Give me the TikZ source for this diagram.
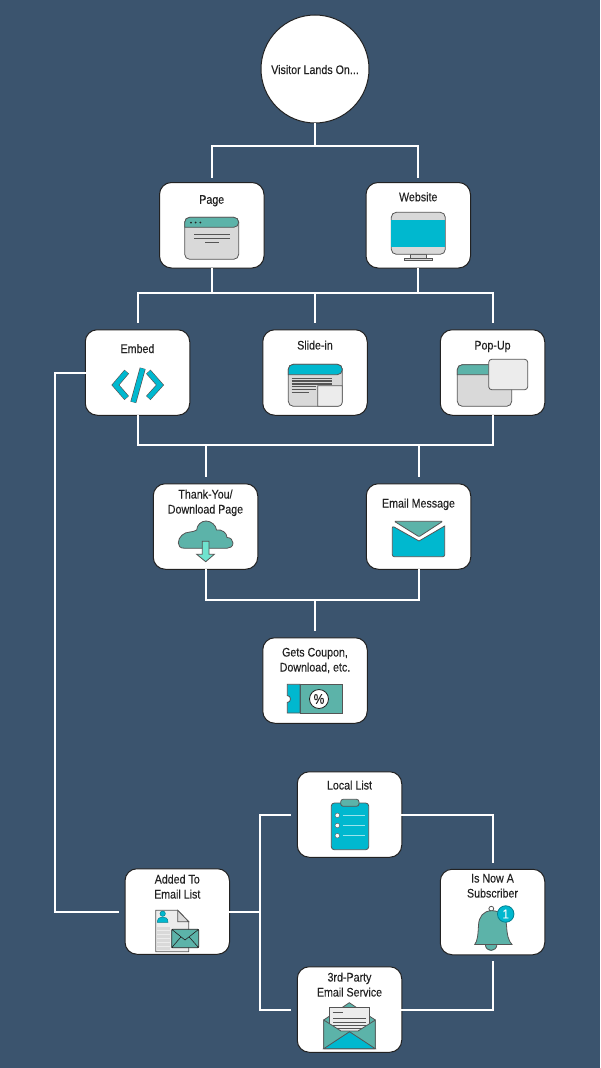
\documentclass[tikz,border=0pt]{standalone}
\usepackage{fontspec}
\setmainfont[FakeStretch=0.86,FakeBold=0.15]{Liberation Sans}
\definecolor{slateback}{HTML}{3B546E}
\definecolor{inkdark}{HTML}{222222}
\definecolor{iconedge}{HTML}{555555}
\definecolor{iconteal}{HTML}{5CB3A9}
\definecolor{iconcyan}{HTML}{00B8CF}
\definecolor{iconmint}{HTML}{6FE3CF}
\definecolor{icongray}{HTML}{D9D9D9}
\definecolor{iconpale}{HTML}{ECECEC}
\newcommand{\lift}[2]{\smash{\raisebox{#1pt}{\begin{tabular}[b]{@{}c@{}}#2\end{tabular}}}}
\newcommand{\windowicon}[6]{
	\draw[iconline,fill=icongray,rounded corners=5pt] (#1,#2) rectangle (#3,#4);
	\draw[iconline,fill=#6,rounded corners=5pt] (#1,#5) -- (#1,#2) -- (#3,#2) -- (#3,#5) [sharp corners] -- cycle;
}
\tikzset{
	card/.style={draw=inkdark,fill=white,line width=1pt,rounded corners=12pt,minimum width=104.5pt,minimum height=85.5pt,inner sep=0pt,text=inkdark,font=\fontsize{12.4}{15}\selectfont},
	wire/.style={white,line width=2pt,line cap=rect},
	stub/.style={shorten >=7pt},
	hv/.style={to path={(\tikztostart) -| (\tikztotarget) \tikztonodes}},
	vh/.style={to path={(\tikztostart) |- (\tikztotarget) \tikztonodes}},
	iconline/.style={draw=iconedge,line width=0.8pt},
	textrule/.style={iconedge,line width=1.2pt},
}
\begin{document}
\begin{tikzpicture}[x=1pt,y=-1pt]
	\fill[slateback] (0,0) rectangle (600,1068);
	\useasboundingbox (0,0) rectangle (600,1068);
	\node[card,circle,minimum size=108pt] (visitor) at (315,69) {\lift{-5}{Visitor Lands On...}};
	\node[card] (page) at (211.75,225.25) {\lift{21.5}{Page}};
	\node[card] (website) at (418.25,225.25) {\lift{24}{Website}};
	\node[card] (embed) at (137.5,372.5) {\lift{19.5}{Embed}};
	\node[card] (slidein) at (315,372.5) {\lift{23}{Slide-in}};
	\node[card] (popup) at (492.5,372.5) {\lift{23}{Pop-Up}};
	\node[card] (thankyou) at (205.5,526.5) {\lift{13}{Thank-You/\\Download Page}};
	\node[card] (emailmsg) at (418.5,526.5) {\lift{19}{Email Message}};
	\node[card] (coupon) at (315,680.5) {\lift{9}{Gets Coupon,\\Download, etc.}};
	\node[card] (locallist) at (349.5,814.5) {\lift{25}{Local List}};
	\node[card] (added) at (177.25,911.5) {\lift{13}{Added To\\Email List}};
	\node[card] (subscriber) at (492.5,912) {\lift{14.5}{Is Now A\\Subscriber}};
	\node[card] (thirdparty) at (349.5,1009.5) {\lift{13}{3rd-Party\\Email Service}};
	\coordinate (topbus) at (315,146);
	\coordinate (midbus) at (315,292.5);
	\coordinate (formbus) at (315,445);
	\coordinate (resultbus) at (315,600);
	\coordinate (siderail) at (55,640);
	\coordinate (listfork) at (260,911.5);
	\path[wire]
	(visitor) edge (topbus)
	(topbus) edge [hv,shorten >=5pt] (page)
	(topbus) edge [hv,shorten >=5pt] (website)
	(page) edge [vh] (midbus)
	(website) edge [vh] (midbus)
	(midbus) edge [hv,stub] (embed)
	(midbus) edge [stub] (slidein)
	(midbus) edge [hv,stub] (popup)
	(embed) edge [vh] (formbus)
	(popup) edge [vh] (formbus)
	(formbus) edge [hv,stub] (thankyou)
	(formbus) edge [hv,stub] (emailmsg)
	(thankyou) edge [vh] (resultbus)
	(emailmsg) edge [vh] (resultbus)
	(resultbus) edge [stub] (coupon)
	(embed) edge [hv] (siderail)
	(siderail) edge [vh,stub] (added)
	(added) edge (listfork)
	(listfork) edge [vh,stub] (locallist)
	(listfork) edge [vh,stub] (thirdparty)
	(locallist) edge [hv,stub] (subscriber)
	(thirdparty) edge [hv,stub] (subscriber);
	% page icon
	\windowicon{184.7}{217.3}{238.7}{259.3}{227.3}{iconteal}
	\fill[inkdark] (191,222.5) circle (1) (195.7,222.5) circle (1) (200.4,222.5) circle (1);
	\draw[textrule] (194,234.3) -- (230,234.3) (194,238.7) -- (230,238.7) (205,242.7) -- (218.7,242.7);
	% website icon
	\draw[iconline,fill=icongray] (410.7,254) rectangle (426.7,258.5);
	\draw[iconline,fill=icongray] (404.3,258.5) rectangle (432.3,260.7);
	\draw[iconline,fill=icongray,rounded corners=5pt] (391.3,212.3) rectangle (445.3,254.3);
	\fill[iconcyan] (391.3,220) rectangle (445.3,247.3);
	% embed icon
	\draw[iconedge,line width=6pt,line cap=butt,miter limit=10] (126.7,371.7) -- (115.4,385) -- (126.7,398) (148.3,371.7) -- (160,385) -- (148.3,398) (142.7,368.3) -- (133.3,402.3);
	\draw[iconcyan,line width=4.7pt,line cap=butt,miter limit=10] (126.4,372) -- (115.4,385) -- (126.4,397.7) (148.6,372) -- (160,385) -- (148.6,397.7) (142.6,368.6) -- (133.4,402);
	% slide-in icon
	\windowicon{288.3}{364.3}{342.3}{406.3}{374.7}{iconcyan}
	\draw[iconline,fill=iconpale] (317.7,385.7) -- (342.3,385.7) -- (342.3,401.3) .. controls (342.3,404.5) and (340.5,406.3) .. (337.3,406.3) -- (317.7,406.3) -- cycle;
	\draw[textrule] (291.7,378.3) -- (332.3,378.3) (291.7,381) -- (332.3,381) (291.7,384) -- (332.3,384) (291.7,386.7) -- (316,386.7) (291.7,389.7) -- (316,389.7) (291.7,392.7) -- (309,392.7);
	% pop-up icon
	\windowicon{457.3}{364.7}{511.7}{406.3}{374.7}{iconteal}
	\draw[iconline,fill=iconpale,rounded corners=3pt] (488.7,359.3) rectangle (527.7,389.7);
	% cloud icon
	\draw[iconline,fill=iconteal] (185,548.3) .. controls (180,548.3) and (178.3,546) .. (178.3,543) .. controls (178.3,537) and (184,532) .. (190,532) .. controls (192,532) and (195,531) .. (196.7,530) .. controls (197,525) and (201,521) .. (206,521) .. controls (211,521) and (216,525) .. (216.5,530) .. controls (222,529) and (227,533) .. (227,537.5) .. controls (230.5,537.5) and (233,540) .. (233,543) .. controls (233,546.5) and (230,548.3) .. (227,548.3) -- cycle;
	\draw[iconline,fill=iconmint] (202.3,541.3) -- (209,541.3) -- (209,554.3) -- (214.3,554.3) -- (205.7,561.7) -- (196.7,554.3) -- (202.3,554.3) -- cycle;
	% email message icon
	\draw[iconline,fill=iconteal,rounded corners=1pt] (394.3,521.3) -- (442.7,521.3) -- (419,536.7) -- cycle;
	\draw[iconline,fill=iconcyan,rounded corners=2pt] (392.3,526) [sharp corners] -- (419,541) -- (444.7,526) [rounded corners=2pt] -- (444.7,556.7) -- (392.3,556.7) -- cycle;
	% coupon icon
	\draw[iconline,fill=iconteal] (300,684.3) rectangle (342.3,713);
	\draw[iconline,fill=iconcyan] (287.3,684.3) -- (300,684.3) -- (300,713) -- (287.3,713) -- (287.3,702.5) .. controls (291.5,702.5) and (291.5,695.5) .. (287.3,695.5) -- cycle;
	\node[circle,draw=inkdark,fill=white,line width=0.8pt,minimum size=19pt,inner sep=0pt,text=inkdark,font=\fontsize{14}{14}\selectfont] (percent) at (319,699) {\%};
	% added-to-list icon
	\draw[iconline,fill=iconpale] (155.7,910.3) -- (177.7,910.3) -- (188.7,921.7) -- (188.7,951.7) -- (155.7,951.7) -- cycle;
	\draw[iconline,fill=icongray] (177.7,910.3) -- (188.7,921.7) -- (177.7,921.7) -- cycle;
	\foreach \rowy in {928.5,932.5,936.5,940.5,944.5,948.3}
		\draw[icongray,line width=2.5pt] (157.3,\rowy) -- (170,\rowy);
	\draw[iconcyan!70!black,line width=0.5pt,fill=iconcyan] (162.7,913.7) circle (2.7);
	\draw[iconcyan!70!black,line width=0.5pt,fill=iconcyan] (157.3,922.3) .. controls (157.5,918) and (160,917) .. (162.7,917) .. controls (165.5,917) and (168,918) .. (168,922.3) -- cycle;
	\draw[draw=inkdark,line width=0.8pt,fill=iconteal,rounded corners=1pt] (171.7,929.3) rectangle (198.7,947.7);
	\draw[inkdark,line width=0.6pt] (171.7,929.3) -- (185,940) -- (198.7,929.3) (171.7,947.7) -- (181,936.8) (198.7,947.7) -- (189,936.8);
	% local list icon
	\draw[iconline,fill=iconcyan,rounded corners=3pt] (331.3,803) rectangle (368.7,849.7);
	\draw[iconline,fill=iconteal,rounded corners=2.5pt] (340.7,799.3) rectangle (359,806.3);
	\foreach \rowy in {815.3,825.5,835.7} {
		\draw[iconcyan!40!white,line width=1pt] (342.7,\rowy) -- (365,\rowy);
		\draw[iconedge,line width=0.4pt,fill=white] (337.3,\rowy) circle (2.3);
	}
	% third-party icon
	\draw[iconline,fill=iconteal] (323.7,1020) -- (349.3,1002.7) -- (375.3,1020) -- (375.3,1048.7) -- (323.7,1048.7) -- cycle;
	\draw[iconline,fill=iconpale] (329.3,1032) -- (329.3,1007.3) -- (369.7,1007.3) -- (369.7,1032) -- cycle;
	\draw[textrule,line width=0.8pt] (332.7,1012.5) -- (343,1012.5) (333,1018.7) -- (366,1018.7) (333,1022) -- (366,1022) (333,1025.5) -- (366,1025.5) (333,1028.7) -- (366,1028.7);
	\draw[iconline,fill=iconteal] (323.7,1020) -- (341,1031) -- (358,1031) -- (375.3,1020) -- (375.3,1048.7) -- (323.7,1048.7) -- cycle;
	\draw[iconline,fill=iconcyan] (323.7,1048.7) -- (349.5,1031.7) -- (375.3,1048.7) -- cycle;
	% subscriber icon
	\draw[iconline] (491.3,908.7) circle (2.4);
	\draw[iconline,fill=iconteal] (485.3,944) .. controls (485.3,952.5) and (497,952.5) .. (497,944) -- cycle;
	\draw[iconline,fill=iconteal] (492,910.7) .. controls (483,910.7) and (479,917) .. (478.5,925) .. controls (478,935) and (477.5,941) .. (474.7,944.5) -- (512,944.5) .. controls (508.5,941) and (507,935) .. (506.5,925) .. controls (506,917) and (501,910.7) .. (492,910.7) -- cycle;
	\node[circle,draw=iconcyan!70!black,fill=iconcyan,line width=0.8pt,minimum size=16.5pt,inner sep=0pt,text=white,font=\fontsize{13}{13}\selectfont] (badge) at (505.7,914) {1};
\end{tikzpicture}
\end{document}
